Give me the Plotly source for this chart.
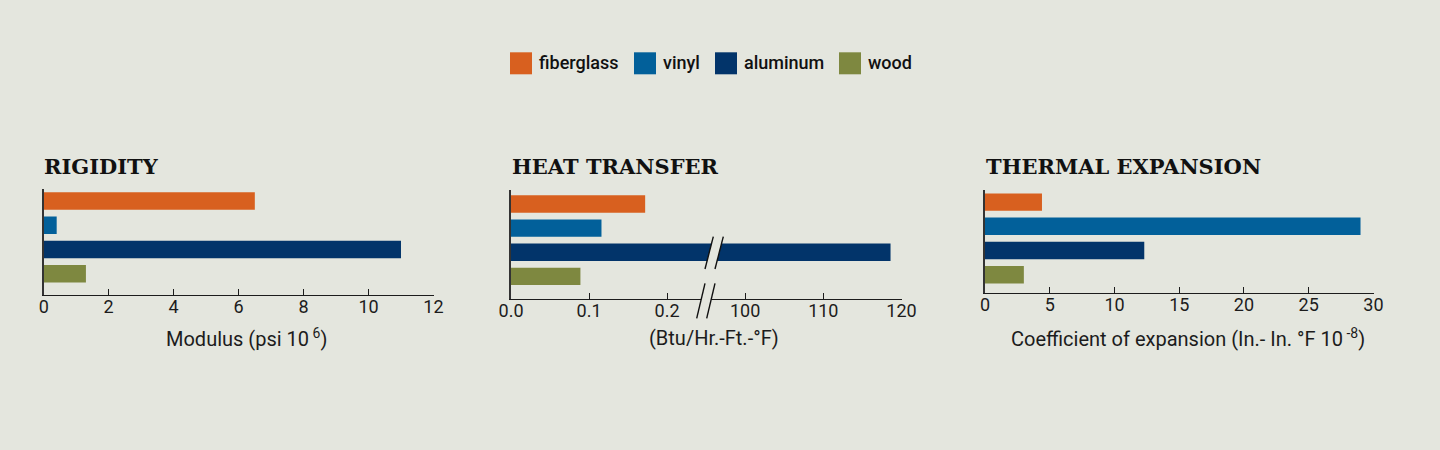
import plotly.graph_objects as go

# ---------------- data ----------------
materials = ["fiberglass", "vinyl", "aluminum", "wood"]
colors = ["#D8601F", "#02609A", "#02346A", "#7E8840"]

rigidity = [6.5, 0.4, 11.0, 1.3]            # Modulus (psi 10^6)
heat_transfer = [0.172, 0.116, 118.6, 0.089]  # Btu/Hr.-Ft.-°F
thermal_exp = [4.4, 29.0, 12.3, 3.0]        # Coefficient of expansion

rig_ticks = [0, 2, 4, 6, 8, 10, 12]
heat_low_ticks = [0.0, 0.1, 0.2]
heat_low_text = ["0.0", "0.1", "0.2"]
heat_high_ticks = [100, 110, 120]
exp_ticks = [0, 5, 10, 15, 20, 25, 30]

titles = ["RIGIDITY", "HEAT TRANSFER", "THERMAL EXPANSION"]
axis_titles = ["Modulus (psi 10<sup> 6</sup>)",
               "(Btu/Hr.-Ft.-°F)",
               "Coefficient of expansion (In.- In. °F 10<sup> -8</sup>)"]

# ---------------- layout helpers ----------------
W, H = 1440, 450
BG = "#E4E6DE"
INK = "#1c1c1c"
FONT = "Roboto"


def px(x):
    return x / W


def py(y):
    return 1 - y / H


fig = go.Figure()

# panel 1
fig.add_trace(go.Bar(y=materials, x=rigidity, orientation="h", marker=dict(color=colors, line_width=0),
                     xaxis="x", yaxis="y", showlegend=False, hoverinfo="x+y"))
# panel 2 (broken axis: low part and high part)
fig.add_trace(go.Bar(y=materials, x=heat_transfer, orientation="h", marker=dict(color=colors, line_width=0),
                     xaxis="x2", yaxis="y2", showlegend=False, hoverinfo="x+y"))
fig.add_trace(go.Bar(y=materials, x=heat_transfer, orientation="h", marker=dict(color=colors, line_width=0),
                     xaxis="x3", yaxis="y2", showlegend=False, hoverinfo="x+y"))
# panel 3
fig.add_trace(go.Bar(y=materials, x=thermal_exp, orientation="h", marker=dict(color=colors, line_width=0),
                     xaxis="x4", yaxis="y3", showlegend=False, hoverinfo="x+y"))

xbase = dict(showline=True, linecolor=INK, linewidth=1.4, ticks="inside", ticklen=6, tickwidth=1.4,
             tickcolor=INK, showgrid=False, zeroline=False, automargin=False,
             tickfont=dict(family=FONT, size=18, color=INK), ticklabelstandoff=-5)
ybase = dict(showline=True, linecolor="#333333", linewidth=2, ticks="", showticklabels=False,
             showgrid=False, zeroline=False, type="category", automargin=False)

fig.update_layout(
    width=W, height=H, autosize=False, paper_bgcolor=BG, plot_bgcolor=BG,
    margin=dict(l=0, r=0, t=0, b=0, pad=0, autoexpand=False), bargap=0.28, showlegend=False,
    xaxis=dict(xbase, domain=[px(43.7), px(433.5)], range=[0, 12.001], tickvals=rig_ticks, anchor="y"),
    yaxis=dict(ybase, domain=[py(295.3), py(189.3)], range=[3.89, -0.48], anchor="x"),
    xaxis2=dict(xbase, domain=[px(511), px(706)], range=[0, 0.25], tickvals=heat_low_ticks,
                ticktext=heat_low_text, anchor="y2"),
    xaxis3=dict(xbase, domain=[px(706), px(901.5)], range=[95, 120.001], tickvals=heat_high_ticks, anchor="y2"),
    yaxis2=dict(ybase, domain=[py(299.3), py(190)], range=[3.95, -0.58], anchor="x2"),
    xaxis4=dict(xbase, domain=[px(985), px(1373.5)], range=[0, 30.002], tickvals=exp_ticks, anchor="y3"),
    yaxis3=dict(ybase, domain=[py(292.7), py(190)], range=[3.74, -0.5], anchor="x4"),
)

annotations = []
shapes = []

# panel titles
for t, x in zip(titles, [42, 510, 984]):
    annotations.append(dict(text=f"<b>{t}</b>", x=px(x), y=py(166.5), xref="paper", yref="paper",
                            xanchor="left", yanchor="middle", showarrow=False,
                            font=dict(family="DejaVu Serif", size=21, color="#111111")))
# axis titles
for t, x in zip(axis_titles, [246.5, 714, 1188]):
    annotations.append(dict(text=t, x=px(x), y=py(338), xref="paper", yref="paper",
                            xanchor="center", yanchor="middle", showarrow=False,
                            font=dict(family=FONT, size=20, color=INK)))

# manual legend
legend_x = [510, 634, 715, 839]
for name, c, lx in zip(materials, colors, legend_x):
    shapes.append(dict(type="rect", xref="paper", yref="paper", x0=px(lx), x1=px(lx + 22),
                       y0=py(74.3), y1=py(52.3), fillcolor=c, line_width=0))
    annotations.append(dict(text=name, x=px(lx + 27), y=py(62.5), xref="paper", yref="paper",
                            xanchor="left", yanchor="middle", showarrow=False,
                            font=dict(family=FONT, size=18, color="#111111", weight=500)))


# axis break marks
def brk(x0b, x0t, yb, yt, gap):
    shapes.append(dict(type="path", xref="paper", yref="paper", layer="above",
                       path=f"M {px(x0b)} {py(yb)} L {px(x0t)} {py(yt)} L {px(x0t + gap)} {py(yt)} "
                            f"L {px(x0b + gap)} {py(yb)} Z",
                       fillcolor=BG, line_width=0))
    for g in (0, gap):
        shapes.append(dict(type="line", xref="paper", yref="paper", layer="above",
                           x0=px(x0b + g), y0=py(yb), x1=px(x0t + g), y1=py(yt),
                           line=dict(color="#111111", width=1.4)))


brk(705, 713.3, 269, 236.7, 10)
brk(696.7, 705, 318.3, 283.3, 10)

fig.update_layout(annotations=annotations, shapes=shapes)
fig.write_html("out.html", config={"displayModeBar": False},
               post_script="document.body.style.margin='0';document.body.style.padding='0';"
                           "document.body.style.overflow='hidden';")
